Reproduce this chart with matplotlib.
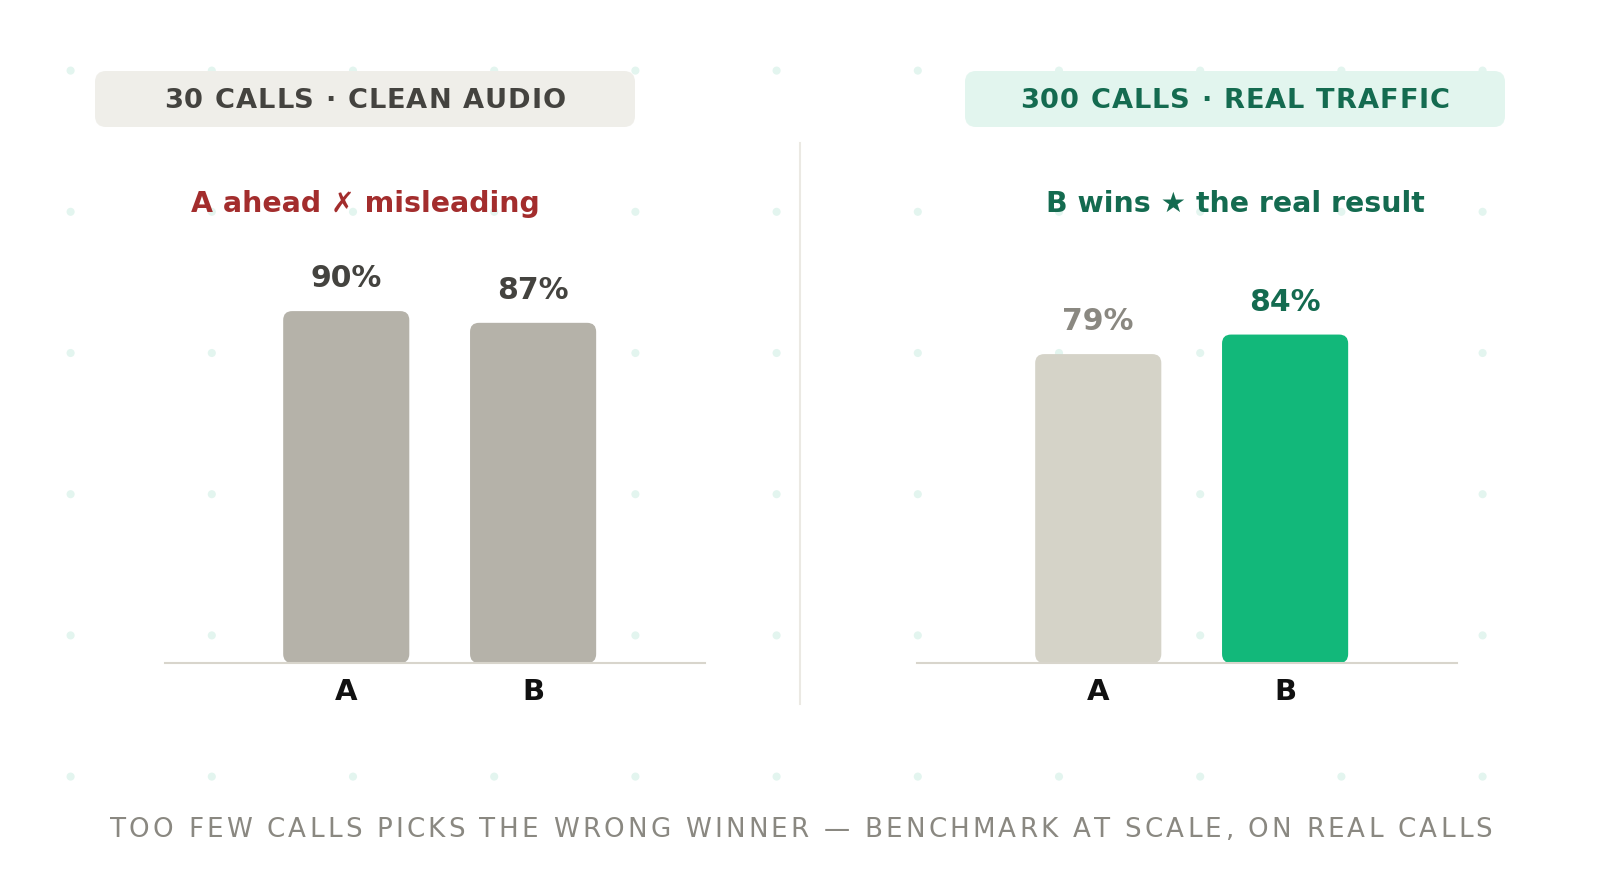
import matplotlib.pyplot as plt
import numpy as np
from matplotlib.patches import FancyBboxPatch
from matplotlib.font_manager import FontProperties, findfont, get_font

W, H = 1600, 894

variants = ['A', 'B']
small_scores = [90, 87]
large_scores = [79, 84]

panel_titles = ['30 CALLS · CLEAN AUDIO', '300 CALLS · REAL TRAFFIC']
panel_verdicts = ['A ahead ✗ misleading', 'B wins ★ the real result']
footer = 'TOO FEW CALLS PICKS THE WRONG WINNER — BENCHMARK AT SCALE, ON REAL CALLS'

# per-panel styling
bar_colors = [['#b5b2a9', '#b5b2a9'], ['#d5d3c8', '#12b87a']]
value_colors = [['#44433f', '#44433f'], ['#8a8881', '#146b50']]
pill_fill = ['#efeee9', '#e2f5ee']
pill_text = ['#44433f', '#146b50']
verdict_colors = ['#a32d2d', '#146b50']


def spaced_text(ax, cx, y, s, size, spacing, weight, color):
    # matplotlib has no letter-spacing, so place glyph by glyph
    prop = FontProperties(family='DejaVu Sans', weight=weight, size=size)
    font = get_font(findfont(prop))
    font.set_size(size, 100)
    advs = [font.load_char(ord(c)).linearHoriAdvance / 65536 for c in s]
    total = sum(advs) + spacing * (len(s) - 1)
    x = cx - total / 2
    for c, a in zip(s, advs):
        if c != ' ':
            ax.text(x + a / 2, y, c, ha='center', va='baseline',
                    fontproperties=prop, color=color)
        x += a + spacing


fig = plt.figure(figsize=(16, 8.94), dpi=100)
fig.patch.set_facecolor('white')

# background layer in pixel coordinates
bg = fig.add_axes([0, 0, 1, 1], zorder=0)
bg.set_xlim(0, W)
bg.set_ylim(H, 0)
bg.axis('off')

gx = 70.6 + 141.2 * np.arange(11)
gy = 70.6 + 141.2 * np.arange(6)
dx, dy = np.meshgrid(gx, gy)
bg.scatter(dx.ravel(), dy.ravel(), s=34, color='#e3f5ef', edgecolors='none')

bg.plot([800, 800], [143, 704], color='#ebe9e3', lw=1.5)

pill_x = [95, 965]
for i in range(2):
    bg.add_patch(FancyBboxPatch((pill_x[i], 71), 540, 56,
                                boxstyle='round,pad=0,rounding_size=11',
                                facecolor=pill_fill[i], edgecolor='none'))
    cx = pill_x[i] + 270
    spaced_text(bg, cx, 108.3, panel_titles[i], 19.6, 1.0, 'bold', pill_text[i])
    bg.text(cx, 211.5, panel_verdicts[i], ha='center', va='baseline',
            fontsize=20.4, fontweight='bold', color=verdict_colors[i])

spaced_text(bg, 801, 836.7, footer, 18.8, 3.25, 'normal', '#8a8881')

# bar panels
scores = [small_scores, large_scores]
ax_left = [165, 917]
x = np.arange(len(variants))
for i in range(2):
    ax = fig.add_axes([ax_left[i] / W, 231 / H, 540 / W, 391 / H], zorder=1)
    ax.patch.set_alpha(0)
    ax.set_xlim(-0.97, 1.92)
    ax.set_ylim(0, 100)
    for side in ['top', 'left', 'right']:
        ax.spines[side].set_visible(False)
    ax.spines['bottom'].set_color('#d8d5cc')
    ax.spines['bottom'].set_linewidth(1.5)
    ax.set_yticks([])
    ax.set_xticks(x, variants)
    ax.tick_params(axis='x', length=0, pad=11, labelsize=21, labelcolor='#111111')
    for lab in ax.get_xticklabels():
        lab.set_fontweight('bold')

    p0 = ax.transData.transform((0, 0))
    p1 = ax.transData.transform((1, 1))
    px_x, px_y = p1[0] - p0[0], p1[1] - p0[1]

    bars = ax.bar(x, scores[i], width=0.675)
    for j, b in enumerate(bars):
        b.set_visible(False)
        ax.add_patch(FancyBboxPatch((b.get_x(), b.get_y()), b.get_width(), b.get_height(),
                                    boxstyle='round,pad=0,rounding_size=%f' % (9 / px_x),
                                    mutation_aspect=px_x / px_y,
                                    facecolor=bar_colors[i][j], edgecolor='none'))
        ax.annotate(f'{scores[i][j]}%', (x[j], scores[i][j]), xytext=(0, 17),
                    textcoords='offset points', ha='center', va='baseline',
                    fontsize=21.5, fontweight='bold', color=value_colors[i][j])

fig.savefig('out.png', dpi=100)
